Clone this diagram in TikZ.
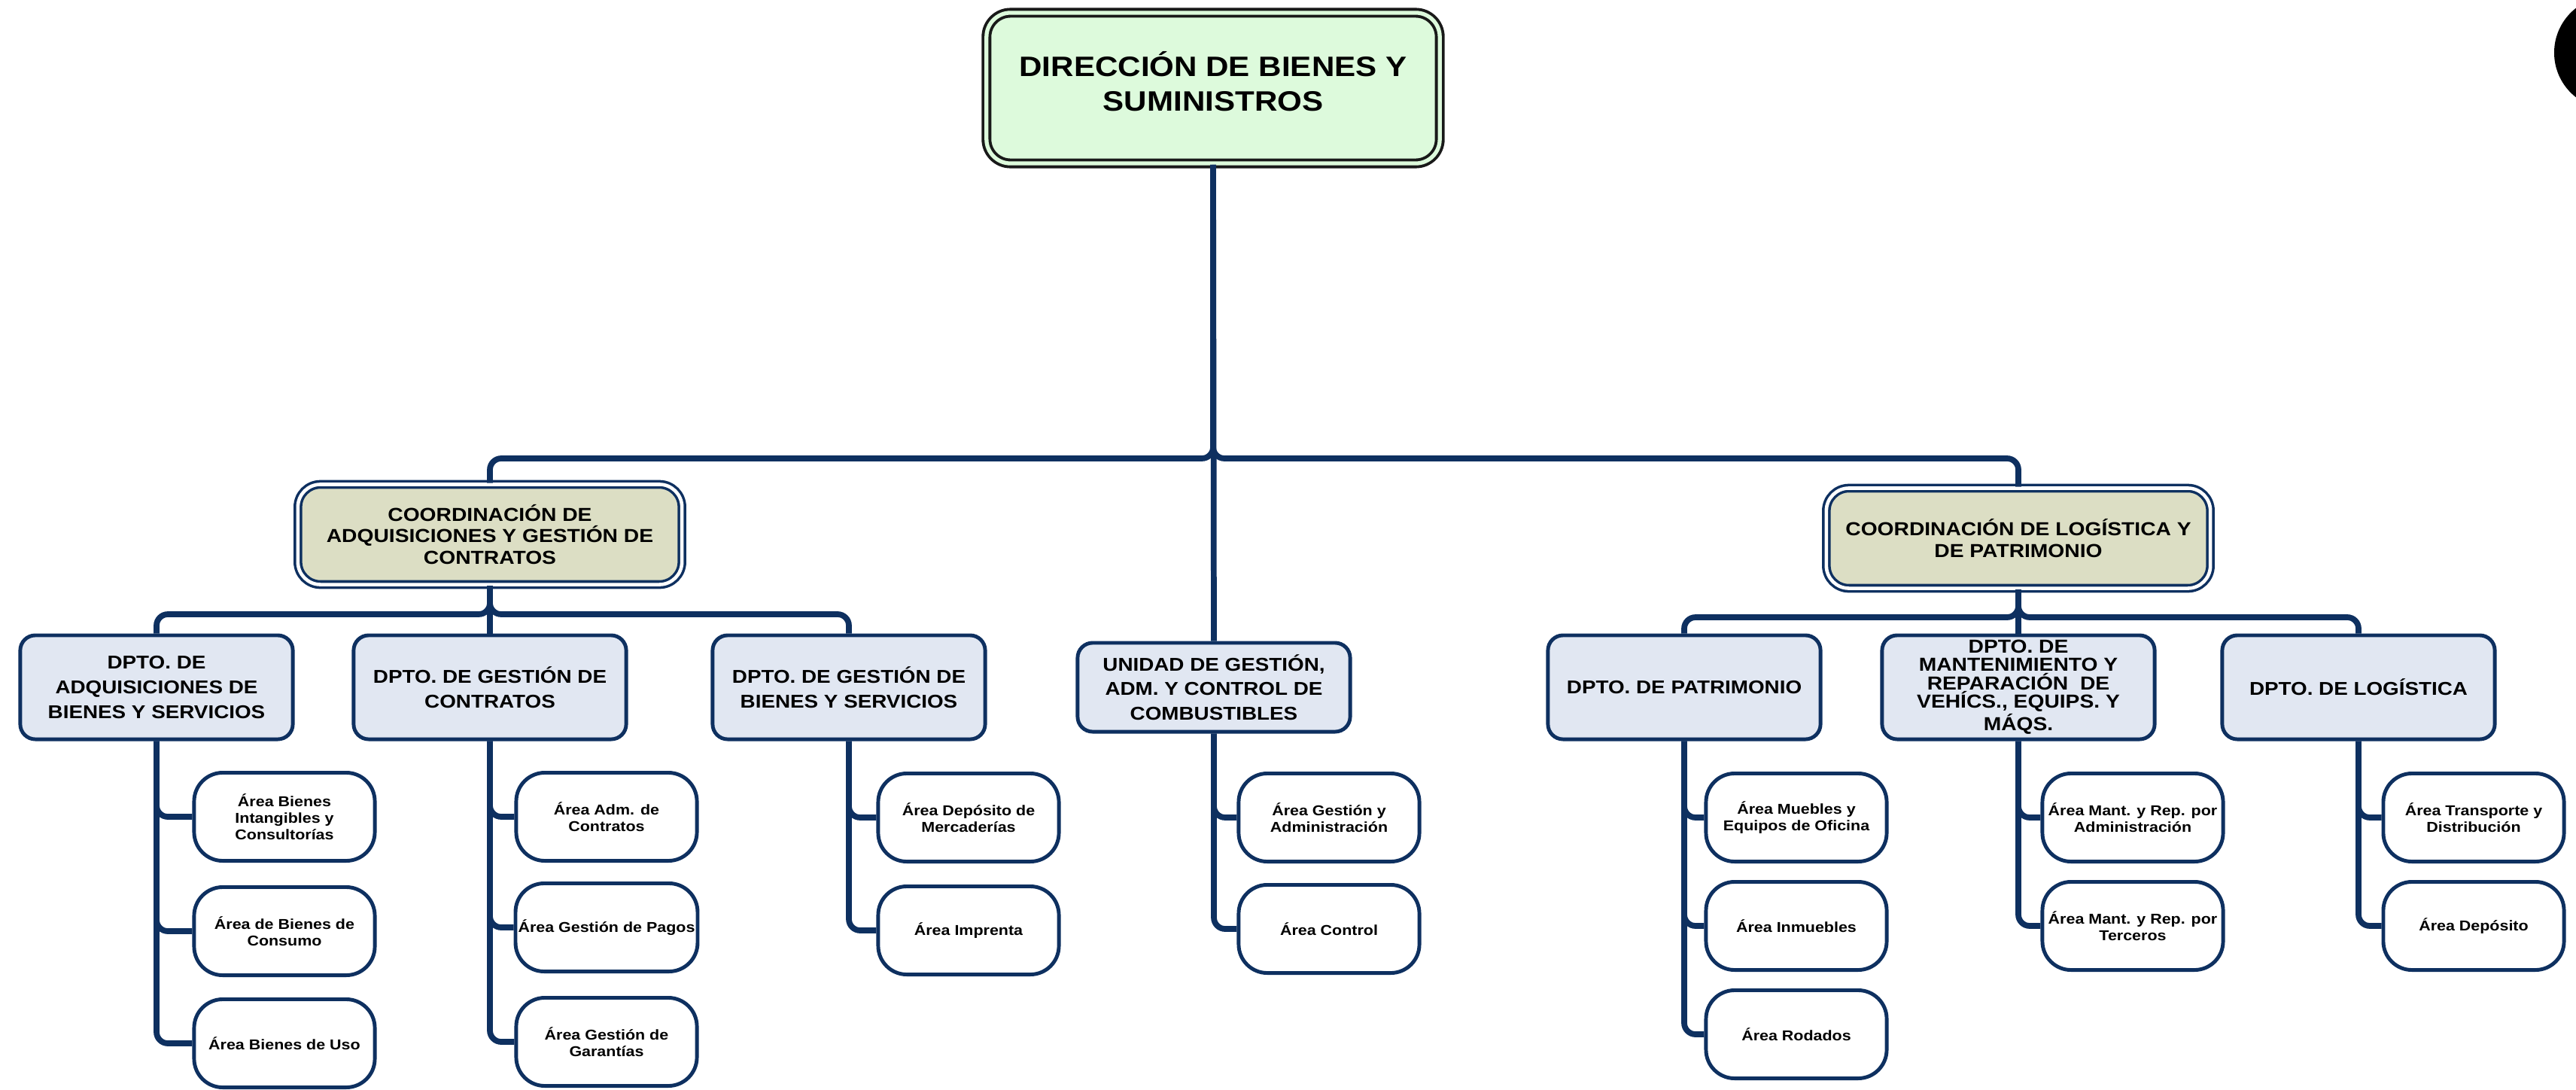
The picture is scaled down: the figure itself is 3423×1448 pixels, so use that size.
\documentclass[tikz,border=0pt]{standalone}
\usepackage{fontspec}
\newfontfamily\cf{Liberation Sans}[FakeStretch=1.13]
\definecolor{navy}{RGB}{14,48,96}
\definecolor{topfill}{RGB}{221,250,220}
\definecolor{coordfill}{RGB}{220,222,196}
\definecolor{dptfill}{RGB}{225,231,242}
\begin{document}
\begin{tikzpicture}[x=0.01cm,y=-0.01cm,
  topbox/.style={draw=black!90, line width=1.1pt, double=topfill, double distance=1.5pt,
    fill=topfill, rounded corners=0.32cm, minimum width=6.02cm, minimum height=2.0cm},
  toptext/.style={align=center, font=\cf\bfseries\fontsize{10.6}{13}\selectfont, yshift=0.09cm},
  coordbox/.style={draw=navy, line width=1pt, double=white, double distance=1.3pt,
    fill=coordfill, rounded corners=0.3cm, minimum width=5.1cm, minimum height=1.33cm,
    align=center, font=\cf\bfseries\fontsize{7.1}{8.2}\selectfont},
  dpt/.style={draw=navy, line width=1.4pt, fill=dptfill, rounded corners=0.2cm,
    minimum width=3.62cm, minimum height=1.38cm, inner sep=1pt,
    align=center, font=\cf\bfseries\fontsize{7.0}{9.3}\selectfont},
  areabox/.style={draw=navy, line width=1.4pt, fill=white, rounded corners=0.38cm,
    minimum width=2.4cm, minimum height=1.17cm, inner sep=1pt,
    align=center, font=\cf\bfseries\fontsize{5.4}{6.3}\selectfont},
  conn/.style={draw=navy, line width=2.2pt, rounded corners=0.15cm}
]
\useasboundingbox (0,0) rectangle (3423,1448);
\begin{scope}
  \clip (0,0) rectangle (3423,1448);
  \fill[black] (3469,70) circle (0.75cm);
\end{scope}

% top
\node[topbox, label={[toptext]center:{DIRECCIÓN DE BIENES Y\\SUMINISTROS}}] (top) at (1612,117) {};

% coordinations
\node[coordbox] (cl) at (651,710) {COORDINACIÓN DE\\ADQUISICIONES Y GESTIÓN DE\\CONTRATOS};
\node[coordbox] (cr) at (2682,715) {COORDINACIÓN DE LOGÍSTICA Y\\DE PATRIMONIO};

% departments
\node[dpt] (adq) at (208,913) {DPTO. DE\\ADQUISICIONES DE\\BIENES Y SERVICIOS};
\node[dpt] (gc) at (651,913) {DPTO. DE GESTIÓN DE\\CONTRATOS};
\node[dpt] (gb) at (1128,913) {DPTO. DE GESTIÓN DE\\BIENES Y SERVICIOS};
\node[dpt, minimum height=1.18cm] (un) at (1613,913) {UNIDAD DE GESTIÓN,\\ADM. Y CONTROL DE\\COMBUSTIBLES};
\node[dpt] (pat) at (2238,913) {DPTO. DE PATRIMONIO};
\node[dpt, font=\cf\bfseries\fontsize{7.1}{6.9}\selectfont] (mant) at (2682,913) {DPTO. DE\\MANTENIMIENTO Y\\REPARACIÓN\ \ DE\\VEHÍCS., EQUIPS. Y\\MÁQS.};
\node[dpt] (log) at (3134,913) {DPTO. DE LOGÍSTICA};

% areas
\node[areabox] (a11) at (378,1085) {Área Bienes\\Intangibles y\\Consultorías};
\node[areabox] (a12) at (378,1237) {Área de Bienes de\\Consumo};
\node[areabox] (a13) at (378,1386) {Área Bienes de Uso};
\node[areabox] (a21) at (806,1085) {Área Adm. de\\Contratos};
\node[areabox] (a22) at (806,1232) {Área Gestión de Pagos};
\node[areabox] (a23) at (806,1384) {Área Gestión de\\Garantías};
\node[areabox] (a31) at (1287,1086) {Área Depósito de\\Mercaderías};
\node[areabox] (a32) at (1287,1236) {Área Imprenta};
\node[areabox] (a41) at (1766,1086) {Área Gestión y\\Administración};
\node[areabox] (a42) at (1766,1234) {Área Control};
\node[areabox] (a51) at (2387,1086) {Área Muebles y\\Equipos de Oficina};
\node[areabox] (a52) at (2387,1230) {Área Inmuebles};
\node[areabox] (a53) at (2387,1374) {Área Rodados};
\node[areabox] (a61) at (2834,1086) {Área Mant. y Rep. por\\Administración};
\node[areabox] (a62) at (2834,1230) {Área Mant. y Rep. por\\Terceros};
\node[areabox] (a71) at (3287,1086) {Área Transporte y\\Distribución};
\node[areabox] (a72) at (3287,1230) {Área Depósito};

% bus levels
\coordinate (yT) at (0,609);
\coordinate (yL) at (0,816);
\coordinate (yR) at (0,820);

% top connectors
\draw[conn] (top.south) -- (top.south |- yT) -| (cl.north);
\draw[conn] (top.south) -- (top.south |- yT) -| (cr.north);
\draw[conn] (top.south) -- (un.north);

% left coordination
\draw[conn] (cl.south) -- (cl.south |- yL) -| (adq.north);
\draw[conn] (cl.south) -- (gc.north);
\draw[conn] (cl.south) -- (cl.south |- yL) -| (gb.north);

% right coordination
\draw[conn] (cr.south) -- (cr.south |- yR) -| (pat.north);
\draw[conn] (cr.south) -- (mant.north);
\draw[conn] (cr.south) -- (cr.south |- yR) -| (log.north);

% areas
\foreach \d/\a in {adq/a11,adq/a12,adq/a13,gc/a21,gc/a22,gc/a23,gb/a31,gb/a32,
                   un/a41,un/a42,pat/a51,pat/a52,pat/a53,mant/a61,mant/a62,log/a71,log/a72}
  \draw[conn] (\d.south) |- (\a.west);
\end{tikzpicture}
\end{document}
